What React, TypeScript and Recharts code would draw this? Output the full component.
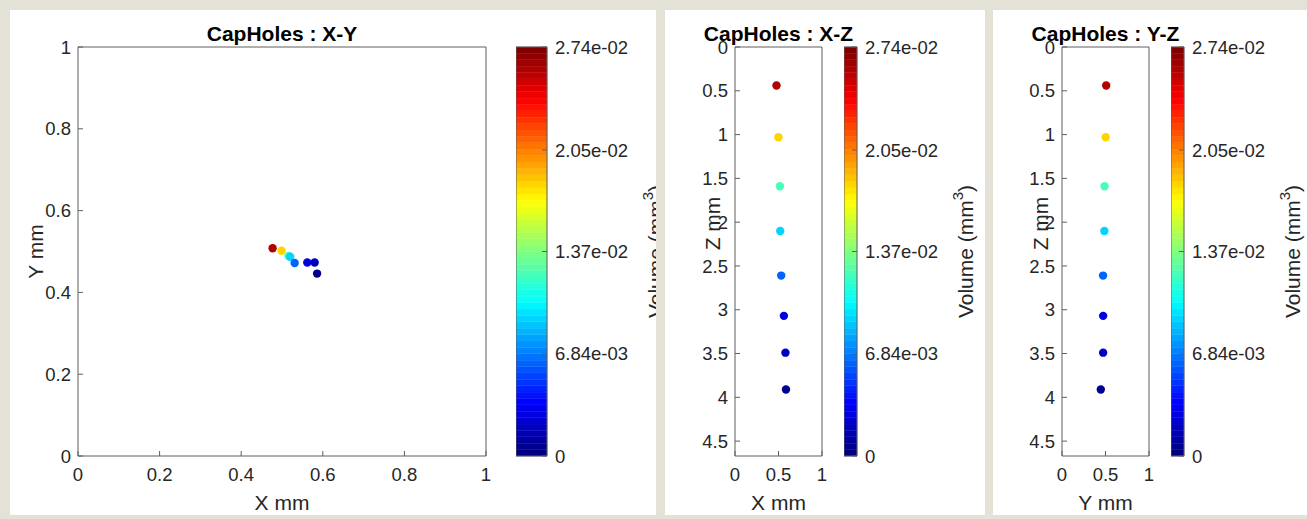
import { ScatterChart, Scatter, XAxis, YAxis, ReferenceArea, Label } from 'recharts'

// hole centroids (mm) and their volumes (mm^3)
const holeX = [0.477, 0.499, 0.516, 0.52, 0.531, 0.562, 0.58, 0.586]
const holeY = [0.508, 0.502, 0.489, 0.487, 0.472, 0.473, 0.473, 0.446]
const holeZ = [0.44, 1.03, 1.59, 2.1, 2.61, 3.07, 3.49, 3.91]
const holeVolume = [0.026, 0.018, 0.0121, 0.009, 0.0062, 0.0027, 0.0019, 0.0005]

const VOL_MAX = 0.0274
const DEPTH_MAX = 4.67
const volumeTicks = [0, 0.00684, 0.0137, 0.0205, 0.0274]
const volumeTickLabels = ['0', '6.84e-03', '1.37e-02', '2.05e-02', '2.74e-02']
const unitTicks = [0, 0.2, 0.4, 0.6, 0.8, 1]
const halfTicks = [0, 0.5, 1]
const depthTicks = [0, 0.5, 1, 1.5, 2, 2.5, 3, 3.5, 4, 4.5]

const FONT = '"Liberation Sans", Arial, Helvetica, sans-serif'
const AXIS = '#5e5e5e'
const TEXT = '#262626'
const LEVELS = 64
const TICK_SIZE = 18.5
const LABEL_SIZE = 21

function jet(t: number) {
  const c = (v: number) => Math.round(255 * Math.min(1, Math.max(0, v)))
  return `rgb(${c(1.5 - Math.abs(4 * t - 3))},${c(1.5 - Math.abs(4 * t - 2))},${c(1.5 - Math.abs(4 * t - 1))})`
}

function volumeColor(v: number) {
  const level = Math.min(LEVELS - 1, Math.floor((v / VOL_MAX) * LEVELS))
  return jet(level / (LEVELS - 1))
}

const holes = holeX.map((x, i) => ({ x, y: holeY[i], z: holeZ[i], color: volumeColor(holeVolume[i]) }))

const barLevels = Array.from({ length: LEVELS }, (_, i) => ({
  lo: (i * VOL_MAX) / LEVELS,
  hi: ((i + 1) * VOL_MAX) / LEVELS,
  color: jet(i / (LEVELS - 1)),
}))

const HoleDot = (props: any) => <circle cx={props.cx} cy={props.cy} r={4.2} fill={props.payload.color} />

const tickStyle = { fill: TEXT, fontSize: TICK_SIZE, fontFamily: FONT }

function xTitle(text: string) {
  return (props: any) => {
    const { x, y, width } = props.viewBox
    return (
      <text x={x + width / 2} y={y + 54} textAnchor="middle" fill={TEXT} fontSize={LABEL_SIZE} fontFamily={FONT}>
        {text}
      </text>
    )
  }
}

function yTitle(text: React.ReactNode, dx: number, dy = 0) {
  return (props: any) => {
    const { x, y, height } = props.viewBox
    const cx = x + dx
    const cy = y + height / 2 + dy
    return (
      <text
        x={cx}
        y={cy}
        transform={`rotate(-90 ${cx} ${cy})`}
        textAnchor="middle"
        dominantBaseline="central"
        fill={TEXT}
        fontSize={LABEL_SIZE}
        fontFamily={FONT}
      >
        {text}
      </text>
    )
  }
}

const volumeTitle = (
  <>
    Volume (mm<tspan dy={-8} fontSize={15}>3</tspan>
    <tspan dy={8}>)</tspan>
  </>
)

interface PanelProps {
  left: number
  width: number
  title: string
  xKey: string
  yKey: string
  xLabel: string
  yLabel: string
  xTicks: number[]
  yTicks: number[]
  yMax: number
  reversed?: boolean
  plotLeft: number
  plotWidth: number
  barLeft: number
  barWidth: number
  yLabelX: number
  yLabelShift?: number
}

function ProjectionPanel(p: PanelProps) {
  const plotRight = p.width - p.plotLeft - p.plotWidth
  return (
    <div
      style={{
        position: 'absolute',
        left: p.left,
        top: 10,
        width: p.width,
        height: 505,
        background: '#ffffff',
        overflow: 'hidden',
      }}
    >
      <ScatterChart width={p.width} height={505} margin={{ top: 37, right: plotRight, bottom: 0, left: 0 }}>
        <XAxis
          type="number"
          dataKey={p.xKey}
          domain={[0, 1]}
          ticks={p.xTicks}
          height={59}
          tickSize={-5}
          tickMargin={17}
          tick={tickStyle}
          axisLine={{ stroke: AXIS }}
          tickLine={{ stroke: AXIS }}
        >
          <Label content={xTitle(p.xLabel)} />
        </XAxis>
        <XAxis
          xAxisId="top"
          orientation="top"
          mirror
          type="number"
          domain={[0, 1]}
          ticks={p.xTicks}
          tick={false}
          tickSize={5}
          axisLine={{ stroke: AXIS }}
          tickLine={{ stroke: AXIS }}
        />
        <YAxis
          type="number"
          dataKey={p.yKey}
          domain={[0, p.yMax]}
          reversed={p.reversed}
          ticks={p.yTicks}
          width={p.plotLeft}
          tickSize={-5}
          tickMargin={12}
          tick={tickStyle}
          axisLine={{ stroke: AXIS }}
          tickLine={{ stroke: AXIS }}
        >
          <Label content={yTitle(p.yLabel, p.yLabelX, p.yLabelShift)} />
        </YAxis>
        <YAxis
          yAxisId="right"
          orientation="right"
          mirror
          type="number"
          domain={[0, p.yMax]}
          reversed={p.reversed}
          ticks={p.yTicks}
          tick={false}
          tickSize={5}
          axisLine={{ stroke: AXIS }}
          tickLine={{ stroke: AXIS }}
        />
        <Scatter data={holes} shape={HoleDot} isAnimationActive={false} />
      </ScatterChart>

      <div style={{ position: 'absolute', left: p.barLeft, top: 0 }}>
        <ScatterChart width={p.barWidth + 130} height={505} margin={{ top: 37, right: 0, bottom: 59, left: 0 }}>
          <XAxis type="number" dataKey="x" domain={[0, 1]} hide />
          <YAxis
            type="number"
            dataKey="v"
            orientation="right"
            domain={[0, VOL_MAX]}
            ticks={volumeTicks}
            tickFormatter={(v: number) => volumeTickLabels[volumeTicks.indexOf(v)] ?? ''}
            width={130}
            tickSize={-5}
            tickMargin={13}
            tick={{ ...tickStyle, textAnchor: 'start' }}
            axisLine={false}
            tickLine={{ stroke: AXIS }}
          >
            <Label content={yTitle(volumeTitle, 108)} />
          </YAxis>
          {barLevels.map((b, i) => (
            <ReferenceArea
              key={i}
              y1={b.lo}
              y2={b.hi}
              fill={b.color}
              fillOpacity={1}
              stroke={b.color}
              strokeWidth={0.4}
            />
          ))}
          <ReferenceArea y1={0} y2={VOL_MAX} fill="none" stroke={AXIS} strokeWidth={1} />
          <Scatter
            data={barLevels.map(b => ({ x: 0.5, v: b.lo }))}
            shape={() => <g />}
            isAnimationActive={false}
          />
        </ScatterChart>
      </div>

      <div
        style={{
          position: 'absolute',
          left: p.plotLeft + p.plotWidth / 2,
          top: 13,
          transform: 'translateX(-50%)',
          whiteSpace: 'nowrap',
          fontFamily: FONT,
          fontSize: 21,
          fontWeight: 'bold',
          lineHeight: '21px',
          color: '#000000',
        }}
      >
        {p.title}
      </div>
    </div>
  )
}

export default function App() {
  return (
    <div
      style={{
        position: 'absolute',
        left: 0,
        top: 0,
        width: 1307,
        height: 519,
        background: '#e4e1d6',
        fontFamily: FONT,
        overflow: 'hidden',
      }}
    >
      <ProjectionPanel
        left={10}
        width={646}
        title="CapHoles : X-Y"
        xKey="x"
        yKey="y"
        xLabel="X mm"
        yLabel="Y mm"
        xTicks={unitTicks}
        yTicks={unitTicks}
        yMax={1}
        plotLeft={68}
        plotWidth={408}
        barLeft={506}
        barWidth={31}
        yLabelX={25}
      />
      <ProjectionPanel
        left={665}
        width={320}
        title="CapHoles : X-Z"
        xKey="x"
        yKey="z"
        xLabel="X mm"
        yLabel="Z mm"
        xTicks={halfTicks}
        yTicks={depthTicks}
        yMax={DEPTH_MAX}
        reversed
        plotLeft={70}
        plotWidth={87}
        barLeft={179}
        barWidth={13}
        yLabelX={47}
        yLabelShift={-28}
      />
      <ProjectionPanel
        left={993}
        width={314}
        title="CapHoles : Y-Z"
        xKey="y"
        yKey="z"
        xLabel="Y mm"
        yLabel="Z mm"
        xTicks={halfTicks}
        yTicks={depthTicks}
        yMax={DEPTH_MAX}
        reversed
        plotLeft={69}
        plotWidth={87}
        barLeft={178}
        barWidth={13}
        yLabelX={47}
        yLabelShift={-28}
      />
    </div>
  )
}
